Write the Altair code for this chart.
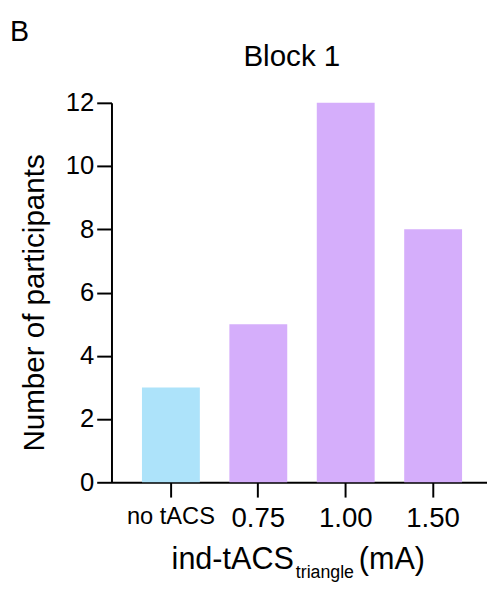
import altair as alt
import pandas as pd

# ---- data ----
categories = ["no tACS", "0.75", "1.00", "1.50"]
counts = [3, 5, 12, 8]
groups = ["none", "tACS", "tACS", "tACS"]
group_colors = ["#ADE3FA", "#D5AEFB"]
y_ticks = [0, 2, 4, 6, 8, 10, 12]

panel_label = "B"
chart_title = "Block 1"
y_title = "Number of participants"
x_title_main = "ind-tACS"
x_title_sub = "triangle"
x_title_unit = "(mA)"

FONT = "Liberation Sans"

df = pd.DataFrame({"cond": categories, "n": counts, "group": groups})

bars = alt.Chart(df).mark_bar().encode(
    x=alt.X(
        "cond:N",
        sort=categories,
        scale=alt.Scale(paddingInner=0.338, paddingOuter=0.317, align=0.55),
        axis=alt.Axis(
            title=None,
            labelAngle=0,
            labelFontSize={
                "condition": {"test": "datum.value == 'no tACS'", "value": 24},
                "value": 28,
            },
            labelFont=FONT,
            labelColor="black",
            labelPadding=8,
            tickSize=15,
            tickWidth=2,
            tickColor="black",
            domainWidth=2,
            domainColor="black",
            grid=False,
        ),
    ),
    y=alt.Y(
        "n:Q",
        scale=alt.Scale(domain=[0, 12], nice=False),
        axis=alt.Axis(
            title=None,
            values=y_ticks,
            labelFontSize=26,
            labelFont=FONT,
            labelColor="black",
            labelPadding=3,
            tickSize=15,
            tickWidth=2,
            tickColor="black",
            domainWidth=2,
            domainColor="black",
            grid=False,
        ),
    ),
    color=alt.Color(
        "group:N",
        scale=alt.Scale(domain=["none", "tACS"], range=group_colors),
        legend=None,
    ),
)

def label(text, x, y, size, align="left", angle=0, baseline="alphabetic"):
    return alt.Chart(pd.DataFrame({"t": [text]})).mark_text(
        font=FONT, fontSize=size, align=align, baseline=baseline, angle=angle, color="black"
    ).encode(x=alt.value(x), y=alt.value(y), text="t:N")

texts = [
    label(panel_label, -103, -63, 29),
    label(chart_title, 183, -37, 30, align="center"),
    label(y_title, -68, 203, 30, align="center", angle=270),
    label(x_title_main, 185, 473, 31, align="right"),
    label(x_title_sub, 187, 482, 18),
    label(x_title_unit, 251, 473, 31),
]

chart = alt.layer(bars, *texts).properties(
    width=381,
    height=385,
    background="white",
    autosize=alt.AutoSizeParams(type="none"),
    padding={"left": 105, "top": 92, "right": 0, "bottom": 101},
).configure_view(strokeWidth=0).configure_axis(grid=False)

chart.save("out.html", embed_options={"renderer": "svg", "actions": False})
